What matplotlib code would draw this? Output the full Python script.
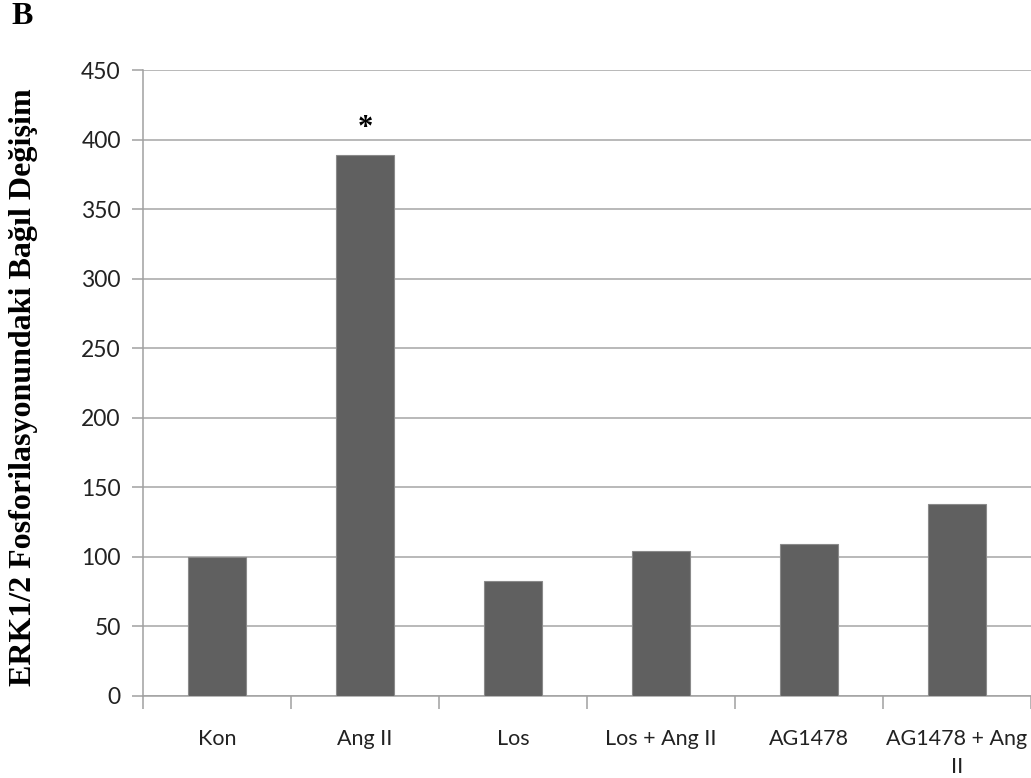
import matplotlib
matplotlib.use("Agg")
import matplotlib.pyplot as plt
import numpy as np

# ERK1/2 phosphorylation, relative change (%) per treatment group
groups = ["Kon", "Ang II", "Los", "Los + Ang II", "AG1478", "AG1478 + Ang\nII"]
values = [100, 389, 83, 104, 109, 138]
significant = [False, True, False, False, False, False]

fig = plt.figure(figsize=(10.31, 7.78), dpi=100)
ax = fig.add_axes([0.1387, 0.1054, 0.8613, 0.8046])

x = np.arange(len(groups))
ax.bar(x, values, width=0.39, color="#606060", edgecolor="#8a8a8a", linewidth=0.8, zorder=3)

for xi, v, s in zip(x, values, significant):
    if s:
        ax.text(xi, v + 19, "*", ha="center", va="center", fontsize=22,
                fontweight="bold", family="Liberation Serif")

ax.set_xlim(-0.5, len(groups) - 0.5)
ax.set_ylim(0, 450)
ax.set_yticks(np.arange(0, 451, 50))
ax.yaxis.grid(True, color="#a6a6a6", linewidth=1.1, zorder=0)
ax.set_axisbelow(True)

# category labels sit between the boundary ticks
ax.set_xticks(x)
ax.set_xticklabels(groups, family="Lato", fontsize=15.5, color="#222222",
                   linespacing=1.45)
ax.tick_params(axis="x", length=0, pad=24)
ax.set_xticks(np.arange(-0.5, len(groups)), minor=True)
ax.tick_params(axis="x", which="minor", length=9, width=1.1, color="#a0a0a0")
ax.tick_params(axis="y", length=8, width=1.1, color="#a0a0a0", pad=8)
for lbl in ax.get_yticklabels():
    lbl.set_family("Lato")
    lbl.set_fontsize(16.5)
    lbl.set_color("#222222")

for side in ["top", "right"]:
    ax.spines[side].set_visible(False)
ax.spines["left"].set_color("#a0a0a0")
ax.spines["bottom"].set_color("#a0a0a0")
ax.spines["left"].set_linewidth(1.1)
ax.spines["bottom"].set_linewidth(1.1)

fig.text(0.023, 0.502, "ERK1/2 Fosforilasyonundaki Bağıl Değişim", rotation=90,
         ha="center", va="center", family="Liberation Serif", fontweight="bold",
         fontsize=23)
fig.text(0.011, 0.979, "B", ha="left", va="center", family="Liberation Serif",
         fontweight="bold", fontsize=23)

fig.savefig("out.png", dpi=100)
